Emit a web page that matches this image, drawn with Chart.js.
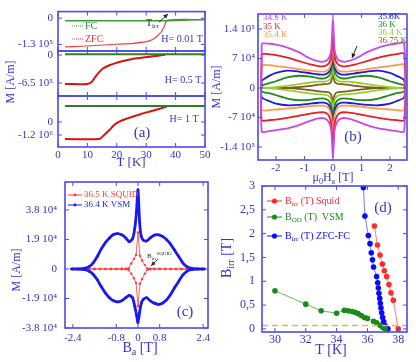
<!DOCTYPE html>
<html lang="en">
<head>
<meta charset="UTF-8">
<title>Magnetization panels</title>
<style>
  body { margin: 0; background: #fff; }
  #wrap { position: relative; width: 416px; height: 362px; overflow: hidden; }
  #wrap canvas { position: absolute; left: 0; top: 0; }
</style>
</head>
<body>
<div id="wrap">
  <canvas id="a1" width="416" height="362"></canvas>
  <canvas id="a2" width="416" height="362"></canvas>
  <canvas id="a3" width="416" height="362"></canvas>
  <canvas id="cb" width="416" height="362"></canvas>
  <canvas id="cc" width="416" height="362"></canvas>
  <canvas id="cd" width="416" height="362"></canvas>
</div>
<script src="https://cdn.jsdelivr.net/npm/chart.js"></script>
<script>
// ---- panel (a): ZFC / FC magnetization vs T (A/m) ----
const a1FcT = [2.4, 37.2, 50];
const a1FcM = [-12200, -12200, -6900];
const a1ZfcT = [2.4, 8, 14.3, 20, 25.6, 29, 31.3, 32.6, 33.6, 34.5, 35.3, 36, 36.4, 37.2, 50];
const a1ZfcM = [-142000, -139000, -134000, -129000, -124600, -119000, -111000, -102000, -90600, -78000, -63700, -45000, -29800, -9500, -6900];

const a2FcT = [2.4, 50];
const a2FcM = [16000, 16000];
const a2ZfcT = [2.4, 10, 11.5, 13.2, 15.4, 17.7, 20, 22.2, 24.5, 26.8, 29, 31.3, 34, 36.4];
const a2ZfcM = [-673000, -673000, -619000, -464000, -309000, -232000, -180000, -139000, -105000, -77000, -56000, -39000, -18000, 5000];

const a3FcT = [2.4, 50];
const a3FcM = [1477000, 1477000];
const a3ZfcT = [2.4, 14, 15.5, 17.5, 19, 20.8, 23, 25.4, 28, 31, 34, 36.2, 37];
const a3ZfcM = [-1569000, -1569000, -1250000, -738000, -300000, 28000, 280000, 489000, 720000, 951000, 1180000, 1357000, 1420000];

// ---- panel (b): M(H) loops, values in 1e4 A/m ----
const bH = [-2.5, -2.2, -2, -1.6, -1.2, -0.8, -0.5, -0.3, -0.15, -0.06, 0, 0.06, 0.15, 0.3, 0.5, 0.8, 1.2, 1.6, 2, 2.2, 2.5];
const bTemps = ['34.5 K', '35 K', '35.4 K', '35.8K', '36 K', '36.4 K', '36.75 K'];
const bUp345 = [10.6, 10.5, 10.3, 9.6, 8.5, 7.0, 6.3, 6.3, 7.0, 9.0, 16.5, 9.0, 7.0, 6.3, 6.3, 7.0, 8.5, 9.6, 10.3, 10.5, 10.6];
const bLo345 = [-10.3, -10.2, -10.0, -9.6, -8.8, -7.8, -7.2, -7.2, -8.0, -10, -16.5, -10, -8.0, -7.2, -7.2, -7.8, -8.8, -9.6, -10.0, -10.2, -10.3];
const bUp350 = [8.1, 8.0, 7.8, 7.2, 6.4, 5.6, 5.2, 5.2, 5.8, 7.5, 13.5, 7.5, 5.8, 5.2, 5.2, 5.6, 6.4, 7.2, 7.8, 8.0, 8.1];
const bLo350 = [-7.6, -7.6, -7.5, -7.1, -6.6, -6.1, -5.8, -5.8, -6.5, -8.5, -14, -8.5, -6.5, -5.8, -5.8, -6.1, -6.6, -7.1, -7.5, -7.6, -7.6];
const bUp354 = [5.5, 5.4, 5.2, 4.9, 4.5, 4.1, 3.9, 3.9, 4.4, 6.0, 11, 6.0, 4.4, 3.9, 3.9, 4.1, 4.5, 4.9, 5.2, 5.4, 5.5];
const bLo354 = [-5.2, -5.2, -5.1, -4.9, -4.6, -4.3, -4.2, -4.2, -4.8, -6.5, -11, -6.5, -4.8, -4.2, -4.2, -4.3, -4.6, -4.9, -5.1, -5.2, -5.2];
const bUp358 = [1.8, 3.0, 3.6, 4.1, 3.9, 3.5, 3.2, 3.2, 3.7, 5.0, 9, 5.0, 3.7, 3.2, 3.2, 3.5, 3.9, 4.1, 3.6, 3.0, 1.8];
const bLo358 = [-2.2, -3.2, -3.7, -4.1, -4.0, -3.7, -3.5, -3.5, -4.0, -5.5, -9.5, -5.5, -4.0, -3.5, -3.5, -3.7, -4.0, -4.1, -3.7, -3.2, -2.2];
const bUp360 = [0.6, 1.2, 1.6, 2.5, 2.9, 2.7, 2.3, 2.3, 2.8, 4.0, 7.5, 4.0, 2.8, 2.3, 2.3, 2.7, 2.9, 2.5, 1.6, 1.2, 0.6];
const bLo360 = [-0.8, -1.3, -1.7, -2.5, -2.9, -2.8, -2.5, -2.5, -3.0, -4.3, -7.5, -4.3, -3.0, -2.5, -2.5, -2.8, -2.9, -2.5, -1.7, -1.3, -0.8];
const bUp364 = [0, 0.1, 0.2, 0.5, 0.9, 1.3, 1.5, 1.5, 1.8, 2.6, 5.5, 2.6, 1.8, 1.5, 1.5, 1.3, 0.9, 0.5, 0.2, 0.1, 0];
const bLo364 = [0, -0.1, -0.2, -0.5, -0.9, -1.3, -1.5, -1.6, -1.9, -2.8, -5.5, -2.8, -1.9, -1.6, -1.5, -1.3, -0.9, -0.5, -0.2, -0.1, 0];
const bUp3675 = [0, 0, 0, 0.05, 0.2, 0.5, 0.8, 0.9, 1.0, 1.5, 3.5, 1.5, 1.0, 0.9, 0.8, 0.5, 0.2, 0.05, 0, 0, 0];
const bLo3675 = [0, 0, 0, -0.05, -0.2, -0.5, -0.8, -0.9, -1.0, -1.6, -3.5, -1.6, -1.0, -0.9, -0.8, -0.5, -0.2, -0.05, 0, 0, 0];

// ---- panel (c): SQUID 36.5 K and VSM 36.4 K loops, values in 1e4 A/m ----
const cSqH = [-2.4, -2.2, -2.0, -1.8, -1.6, -1.4, -1.2, -1.0, -0.8, -0.6, -0.45, -0.35, -0.25, -0.15, -0.07, 0, 0.07, 0.15, 0.25, 0.35, 0.45, 0.6, 0.8, 1.0, 1.2, 1.4, 1.6, 1.8, 2.0, 2.2, 2.4];
const cSqUp = [0, 0, 0, 0, 0, 0, 0, 0.01, 0.01, 0.02, 0.02, 0.05, 0.35, 0.65, 0.9, 2.35, 0.85, 0.55, 0.25, 0.03, 0.02, 0.01, 0.01, 0, 0, 0, 0, 0, 0, 0, 0];
const cSqLo = [0, 0, 0, 0, 0, 0, 0, -0.01, -0.01, -0.02, -0.02, -0.05, -0.3, -0.6, -0.9, -2.4, -0.95, -0.65, -0.3, -0.05, -0.02, -0.01, -0.01, 0, 0, 0, 0, 0, 0, 0, 0];
const cVsH = [-2.45, -2.2, -1.95, -1.8, -1.65, -1.5, -1.35, -1.2, -1.05, -0.9, -0.75, -0.6, -0.45, -0.32, -0.2, -0.12, -0.06, 0, 0.06, 0.12, 0.2, 0.32, 0.45, 0.6, 0.75, 0.9, 1.05, 1.2, 1.35, 1.5, 1.65, 1.8, 1.95, 2.2, 2.45];
const cVsUp = [0, 0, 0.05, 0.15, 0.4, 0.8, 1.3, 1.7, 2.0, 2.22, 2.28, 2.2, 2.0, 1.75, 1.95, 2.6, 3.6, 5.1, 3.0, 2.1, 1.85, 1.8, 2.0, 2.18, 2.2, 2.1, 1.9, 1.6, 1.2, 0.8, 0.4, 0.15, 0.05, 0, 0];
const cVsLo = [0, 0, -0.05, -0.15, -0.35, -0.7, -1.15, -1.55, -1.85, -2.05, -2.12, -2.05, -1.85, -1.7, -1.85, -2.4, -2.9, -3.45, -2.8, -2.2, -1.95, -1.85, -2.05, -2.2, -2.28, -2.2, -2.0, -1.65, -1.2, -0.8, -0.4, -0.15, -0.05, 0, 0];

// ---- panel (d): irreversibility / order-disorder lines ----
const dSqT = [36.45, 36.65, 36.82, 36.97, 37.1, 37.25, 37.4, 37.53, 37.68, 38.0];
const dSqB = [2.16, 1.76, 1.55, 1.36, 1.22, 1.10, 0.93, 0.76, 0.6, 0];
const dOdT = [30, 32, 33, 34, 34.5, 34.75, 35.0, 35.2, 35.4, 35.6, 35.8, 36.0, 36.4, 36.6, 36.8, 37.0, 37.15];
const dOdB = [0.80, 0.52, 0.38, 0.33, 0.39, 0.38, 0.365, 0.35, 0.32, 0.28, 0.24, 0.22, 0.16, 0.13, 0.08, 0.03, 0];
const dZfT = [35.74, 35.84, 36.06, 36.17, 36.25, 36.33, 36.4, 36.6, 36.67, 36.71, 36.75, 36.8, 36.84, 36.88, 36.93, 36.99, 37.06, 37.14, 37.25, 37.33];
const dZfB = [2.97, 2.37, 1.96, 1.79, 1.6, 1.45, 1.3, 1.1, 0.97, 0.86, 0.75, 0.64, 0.54, 0.44, 0.34, 0.24, 0.15, 0.07, 0.01, 0];
const dFloorB = 0.07;

// ---- styling ----
const SERIF = '"Liberation Serif", "DejaVu Serif", serif';
const AXIS = '#4b4be6';
const TICK = '#3434c8';
Chart.defaults.font.family = SERIF;

function pts(xs, ys, k) { return xs.map((x, i) => ({ x: x, y: ys[i] * (k || 1) })); }

function scale(o) {
  const isX = o.pos === 'bottom';
  return {
    type: 'linear', position: o.pos, min: o.min, max: o.max,
    grid: { display: false, drawTicks: false },
    border: { display: false },
    afterBuildTicks: s => { s.ticks = o.ticks.map(v => ({ value: v })); },
    afterFit: s => { if (isX) s.height = o.size; else s.width = o.size; },
    ticks: {
      display: o.show !== false, autoSkip: false, maxRotation: 0, minRotation: 0,
      padding: o.pad || 0, color: TICK, font: { family: SERIF, size: o.font || 11 },
      callback: (v, i) => o.labels ? o.labels[i] : String(v)
    }
  };
}

function ds(data, color, w, extra) {
  return Object.assign({ data: data, showLine: true, borderColor: color, backgroundColor: color,
    pointBorderColor: color, pointBorderWidth: 0,
    borderWidth: w, pointRadius: 0, tension: 0.3 }, extra || {});
}

// frame and inward tick marks
Chart.register({
  id: 'frame',
  afterDatasetsDraw(chart) {
    const { ctx, chartArea: a } = chart;
    const xs = chart.scales.x, ys = chart.scales.y;
    ctx.save();
    ctx.strokeStyle = AXIS;
    ctx.lineWidth = 1;
    ctx.beginPath();
    xs.ticks.forEach(t => {
      const p = xs.getPixelForValue(t.value);
      ctx.moveTo(p, a.bottom); ctx.lineTo(p, a.bottom - 4);
      ctx.moveTo(p, a.top); ctx.lineTo(p, a.top + 4);
    });
    ys.ticks.forEach(t => {
      const p = ys.getPixelForValue(t.value);
      ctx.moveTo(a.left, p); ctx.lineTo(a.left + 4, p);
      ctx.moveTo(a.right, p); ctx.lineTo(a.right - 4, p);
    });
    ctx.stroke();
    ctx.lineWidth = 1.6;
    ctx.strokeRect(a.left, a.top, a.right - a.left, a.bottom - a.top);
    ctx.restore();
  }
});

function makeChart(id, datasets, xs, ys, pad, plugins) {
  return new Chart(document.getElementById(id), {
    type: 'scatter',
    data: { datasets: datasets },
    options: {
      responsive: false, animation: false, devicePixelRatio: 1,
      layout: { padding: pad },
      plugins: { legend: { display: false }, tooltip: { enabled: false } },
      scales: { x: xs, y: ys }
    },
    plugins: plugins || []
  });
}

// ---- panel (a) ----
const aX = show => scale({ pos: 'bottom', min: 0, max: 50, ticks: [0, 10, 20, 30, 40, 50],
  size: show ? 28 : 0, show: show, pad: 2, font: 11 });

makeChart('a1', [
  ds(pts(a1FcT, a1FcM), '#3c9a3c', 1.5, { tension: 0 }),
  ds(pts(a1ZfcT, a1ZfcM), '#f04040', 1.2)
], aX(false), scale({ pos: 'left', min: -162500, max: 32500, ticks: [-130000, 0],
  labels: ['-1.3 10\u2075', '0'], size: 50, pad: 5 }),
  { left: 8, right: 211, top: 3, bottom: 311 });

makeChart('a2', [
  ds(pts(a2FcT, a2FcM), '#2d7d2d', 2, { tension: 0 }),
  ds(pts(a2ZfcT, a2ZfcM), '#e01010', 2)
], aX(false), scale({ pos: 'left', min: -952000, max: 92900, ticks: [-650000, 0],
  labels: ['-6.5 10\u2075', '0'], size: 50, pad: 5 }),
  { left: 8, right: 211, top: 51, bottom: 266 });

makeChart('a3', [
  ds(pts(a3FcT, a3FcM), '#2d7d2d', 2, { tension: 0 }),
  ds(pts(a3ZfcT, a3ZfcM), '#e01010', 2)
], aX(true), scale({ pos: 'left', min: -2308000, max: 2400000, ticks: [-1200000, 0],
  labels: ['-1.2 10\u2076', '0'], size: 50, pad: 5 }),
  { left: 8, right: 211, top: 96, bottom: 187 });

// ---- panel (b) ----
const bColors = ['#c848ee', '#ee1c24', '#ff9a48', '#1c1cdc', '#1e8c1e', '#9ccc33', '#7a5c1c'];
const bUps = [bUp345, bUp350, bUp354, bUp358, bUp360, bUp364, bUp3675];
const bLos = [bLo345, bLo350, bLo354, bLo358, bLo360, bLo364, bLo3675];
const bSets = bUps.map((up, i) => {
  const upper = pts(bH, up, 1e4);
  const lower = pts(bH.slice().reverse(), bLos[i].slice().reverse(), 1e4);
  return ds(upper.concat(lower, [upper[0]]), bColors[i], 1.8, { tension: 0.25 });
});
makeChart('cb', bSets,
  scale({ pos: 'bottom', min: -2.63, max: 2.6, ticks: [-2, -1, 0, 1, 2], size: 18, pad: 2 }),
  scale({ pos: 'left', min: -170900, max: 175600, ticks: [-140000, -70000, 0, 70000, 140000],
    labels: ['-1.4 10\u2075', '-7 10\u2074', '0', '7 10\u2074', '1.4 10\u2075'], size: 50, pad: 3 }),
  { left: 208, right: 9, top: 14, bottom: 184 });

// ---- panel (c) ----
const cSquid = pts(cSqH, cSqUp, 1e4).concat(pts(cSqH.slice().reverse(), cSqLo.slice().reverse(), 1e4));
const cVsm = pts(cVsH, cVsUp, 1e4).concat(pts(cVsH.slice().reverse(), cVsLo.slice().reverse(), 1e4));
makeChart('cc', [
  ds(cVsm, '#1a1af0', 2.8, { tension: 0.2, pointRadius: 1.3 }),
  ds(cSquid, '#ff3a3a', 0.8, { tension: 0, pointRadius: 1.2 })
], scale({ pos: 'bottom', min: -2.69, max: 2.58, ticks: [-2.4, -0.8, 0, 0.8, 2.4],
    labels: ['-2.4', '-0.8', '0', '0.8', '2.4'], size: 28, pad: 4 }),
  scale({ pos: 'left', min: -38000, max: 56000, ticks: [-38000, -19000, 0, 19000, 38000],
    labels: ['-3.8 10\u2074', '-1.9 10\u2074', '0', '1.9 10\u2074', '3.8 10\u2074'], size: 55, pad: 8 }),
  { left: 10, right: 208, top: 182, bottom: 6 });

// ---- panel (d) + all free text ----
function rich(ctx, x, y, parts, size, color, align, rot) {
  ctx.save();
  ctx.translate(x, y);
  if (rot) ctx.rotate(rot);
  ctx.fillStyle = color;
  ctx.textBaseline = 'middle';
  let w = 0;
  const items = parts.map(p => {
    const mode = p[1] || 0;
    const s = mode ? Math.round(size * 0.68) : size;
    ctx.font = s + 'px ' + SERIF;
    const it = { t: p[0], s: s, dy: mode === 1 ? size * 0.32 : mode === 2 ? -size * 0.38 : 0, w: ctx.measureText(p[0]).width };
    w += it.w;
    return it;
  });
  let cx = align === 'center' ? -w / 2 : align === 'right' ? -w : 0;
  items.forEach(it => {
    ctx.font = it.s + 'px ' + SERIF;
    ctx.fillText(it.t, cx, it.dy);
    cx += it.w;
  });
  ctx.restore();
}

function arrow(ctx, x1, y1, x2, y2, color) {
  ctx.save();
  ctx.strokeStyle = color; ctx.fillStyle = color; ctx.lineWidth = 1;
  ctx.beginPath(); ctx.moveTo(x1, y1); ctx.lineTo(x2, y2); ctx.stroke();
  const a = Math.atan2(y2 - y1, x2 - x1), L = 5;
  ctx.beginPath();
  ctx.moveTo(x2, y2);
  ctx.lineTo(x2 - L * Math.cos(a - 0.45), y2 - L * Math.sin(a - 0.45));
  ctx.lineTo(x2 - L * Math.cos(a + 0.45), y2 - L * Math.sin(a + 0.45));
  ctx.closePath(); ctx.fill();
  ctx.restore();
}

function sample(ctx, x1, x2, y, color, dot, dash) {
  ctx.save();
  ctx.strokeStyle = color; ctx.fillStyle = color; ctx.lineWidth = 1;
  if (dash) ctx.setLineDash(dash);
  ctx.beginPath(); ctx.moveTo(x1, y); ctx.lineTo(x2, y); ctx.stroke();
  if (dot) { ctx.beginPath(); ctx.arc((x1 + x2) / 2, y, dot, 0, Math.PI * 2); ctx.fill(); }
  ctx.restore();
}

const overlay = {
  id: 'overlay',
  afterDraw(chart) {
    const ctx = chart.ctx;
    const up = -Math.PI / 2;
    // (a)
    rich(ctx, 11, 82, [['M [A/m]']], 12, TICK, 'center', up);
    rich(ctx, 131, 163, [['T [K]']], 13, TICK, 'center');
    rich(ctx, 182, 39, [['H= 0.01 T']], 10, TICK, 'center');
    rich(ctx, 183, 80, [['H= 0.5 T']], 10, TICK, 'center');
    rich(ctx, 184, 119, [['H= 1 T']], 10, TICK, 'center');
    rich(ctx, 142, 133, [['(a)']], 15, TICK, 'center');
    sample(ctx, 72, 83, 26, '#3c9a3c', 0, [1, 1]);
    sample(ctx, 72, 83, 39, '#f04040', 0, [1, 1]);
    rich(ctx, 85, 26, [['FC']], 10, '#2e8b2e', 'left');
    rich(ctx, 85, 39, [['ZFC']], 10, '#e83030', 'left');
    rich(ctx, 146, 23, [['T'], ['irr', 1]], 10, '#222', 'left');
    arrow(ctx, 159, 22, 168, 14, '#222');
    // (b)
    rich(ctx, 217, 87, [['M [A/m]']], 12, TICK, 'center', up);
    rich(ctx, 333, 178, [['\u03bc'], ['0', 1], ['H'], ['a', 1], [' [T]']], 12, TICK, 'center');
    rich(ctx, 353, 137, [['(b)']], 15, TICK, 'center');
    [0, 1, 2].forEach(i => rich(ctx, 263, 18 + i * 8.5, [[bTemps[i]]], 9, bColors[i], 'left'));
    [3, 4, 5, 6].forEach(i => rich(ctx, 378, 17 + (i - 3) * 8, [[bTemps[i]]], 9, bColors[i], 'left'));
    arrow(ctx, 357, 46, 352, 58, '#222');
    // (c)
    rich(ctx, 17, 270, [['M [A/m]']], 12, TICK, 'center', up);
    rich(ctx, 140, 348, [['B'], ['a', 1], [' [T]']], 14, TICK, 'center');
    rich(ctx, 185, 312, [['(c)']], 15, TICK, 'center');
    sample(ctx, 68, 82, 195, '#ff3a3a', 1.4);
    sample(ctx, 68, 82, 205, '#1a1af0', 1.4);
    rich(ctx, 84, 195, [['36.5 K SQUID']], 9, '#ff3a3a', 'left');
    rich(ctx, 84, 205, [['36.4 K VSM']], 9, '#1a1af0', 'left');
    rich(ctx, 147, 256, [['B'], ['irr', 1], ['SQUID', 2]], 7, '#333', 'left');
    arrow(ctx, 158, 259, 151, 266, '#333');
    // (d)
    rich(ctx, 227, 258, [['B'], ['irr', 1], [' [T]']], 14, TICK, 'center', up);
    rich(ctx, 331, 350, [['T [K]']], 14, TICK, 'center');
    rich(ctx, 383, 208, [['(d)']], 15, TICK, 'center');
    sample(ctx, 267, 282, 201, '#ff2a2a', 2.6);
    sample(ctx, 267, 282, 217, '#1a8a1a', 2.6);
    sample(ctx, 267, 282, 236, '#0a0aff', 2.6);
    rich(ctx, 285, 201, [['B'], ['irr', 1], [' (T) Squid']], 10, '#ff2a2a', 'left');
    rich(ctx, 285, 217, [['B'], ['OD', 1], [' (T)  VSM']], 10, '#1a8a1a', 'left');
    rich(ctx, 285, 236, [['B'], ['irr', 1], [' (T) ZFC-FC']], 10, '#0a0aff', 'left');
  }
};

makeChart('cd', [
  ds(pts([29.16, 38.57], [dFloorB, dFloorB]), '#f5a860', 1.5, { tension: 0, borderDash: [6, 4] }),
  ds(pts(dOdT, dOdB), '#1a8a1a', 1, { tension: 0, pointRadius: 2.8, borderColor: '#6cb86c' }),
  ds(pts(dZfT, dZfB), '#0a0aff', 1, { tension: 0, pointRadius: 2.8, borderColor: '#7a7aff' }),
  ds(pts(dSqT, dSqB), '#ff2a2a', 1, { tension: 0, pointRadius: 2.8, borderColor: '#ff8080' })
], scale({ pos: 'bottom', min: 29.16, max: 38.57, ticks: [30, 32, 34, 36, 38], size: 24, pad: 1, font: 12 }),
  scale({ pos: 'left', min: -0.065, max: 3.0, ticks: [0, 0.5, 1, 1.5, 2, 2.5, 3],
    labels: ['0', '0,5', '1', '1,5', '2', '2,5', '3'], size: 50, pad: 7, font: 12 }),
  { left: 212, right: 9, top: 186, bottom: 6 }, [overlay]);
</script>
</body>
</html>
